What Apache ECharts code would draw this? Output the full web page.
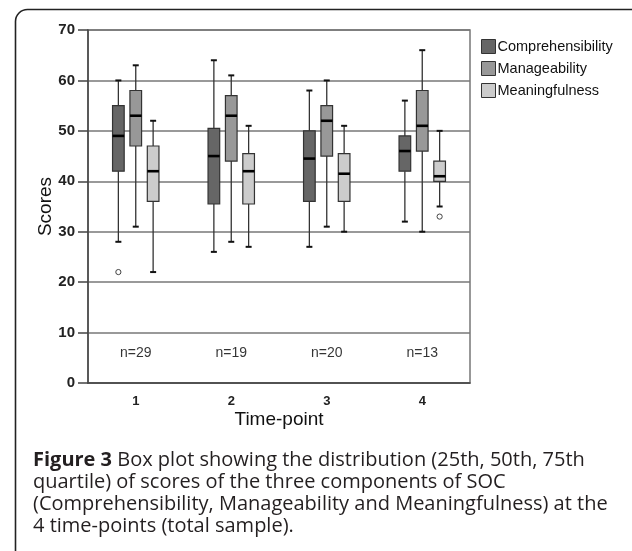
<!DOCTYPE html>
<html>
<head>
<meta charset="utf-8">
<script src="https://cdn.jsdelivr.net/npm/echarts@6/dist/echarts.min.js"></script>
<style>
html,body{margin:0;padding:0;background:#fff;}
#chart{width:632px;height:551px;}
</style>
</head>
<body>
<div id="chart"></div>
<script>
// ---- data ----
const timePoints = ['1', '2', '3', '4'];
const seriesNames = ['Comprehensibility', 'Manageability', 'Meaningfulness'];
// [min, Q1, median, Q3, max] per time-point
const comprehensibility = [
  [28, 42, 49, 55, 60],
  [26, 35.5, 45, 50.5, 64],
  [27, 36, 44.5, 50, 58],
  [32, 42, 46, 49, 56]
];
const manageability = [
  [31, 47, 53, 58, 63],
  [28, 44, 53, 57, 61],
  [31, 45, 52, 55, 60],
  [30, 46, 51, 58, 66]
];
const meaningfulness = [
  [22, 36, 42, 47, 52],
  [27, 35.5, 42, 45.5, 51],
  [30, 36, 41.5, 45.5, 51],
  [35, 40, 41, 44, 50]
];
// outliers: [time-point index, value]
const comprehensibilityOutliers = [[0, 22]];
const manageabilityOutliers = [];
const meaningfulnessOutliers = [[3, 33]];
const sampleSizes = [29, 19, 20, 13];
const yTicks = [0, 10, 20, 30, 40, 50, 60, 70];

// ---- styling ----
const fills = ['#666666', '#989898', '#cccccc'];
const offsets = [-0.182, 0, 0.182];   // fraction of band width
const boxFrac = 0.122;
const ink = '#333333';

function boxRenderer(k) {
  return function (params, api) {
    const cat = api.value(0);
    const mn = api.value(1), q1 = api.value(2), md = api.value(3), q3 = api.value(4), mx = api.value(5);
    const band = api.size([1, 0])[0];
    const cx = api.coord([cat, 0])[0] + offsets[k] * band;
    const w = band * boxFrac;
    const Y = v => api.coord([cat, v])[1];
    const capW = 3;
    const lineStyle = { stroke: ink, lineWidth: 1.3 };
    return {
      type: 'group',
      children: [
        { type: 'line', shape: { x1: cx, y1: Y(mx), x2: cx, y2: Y(q3) }, style: lineStyle },
        { type: 'line', shape: { x1: cx, y1: Y(q1), x2: cx, y2: Y(mn) }, style: lineStyle },
        { type: 'line', shape: { x1: cx - capW, y1: Y(mx), x2: cx + capW, y2: Y(mx) }, style: { stroke: '#111', lineWidth: 2 } },
        { type: 'line', shape: { x1: cx - capW, y1: Y(mn), x2: cx + capW, y2: Y(mn) }, style: { stroke: '#111', lineWidth: 2 } },
        { type: 'rect', shape: { x: cx - w / 2, y: Y(q3), width: w, height: Y(q1) - Y(q3) },
          style: { fill: fills[k], stroke: ink, lineWidth: 1.2 } },
        { type: 'line', shape: { x1: cx - w / 2, y1: Y(md), x2: cx + w / 2, y2: Y(md) }, style: { stroke: '#000', lineWidth: 2.6 } }
      ]
    };
  };
}
function outlierRenderer(k) {
  return function (params, api) {
    const cat = api.value(0);
    const band = api.size([1, 0])[0];
    const p = api.coord([cat, api.value(1)]);
    return { type: 'circle', shape: { cx: p[0] + offsets[k] * band, cy: p[1], r: 2.6 },
      style: { fill: '#fff', stroke: '#444', lineWidth: 1 } };
  };
}

const boxData = [comprehensibility, manageability, meaningfulness];
const outData = [comprehensibilityOutliers, manageabilityOutliers, meaningfulnessOutliers];

const series = [];
boxData.forEach((arr, k) => {
  series.push({
    name: seriesNames[k],
    type: 'custom',
    renderItem: boxRenderer(k),
    itemStyle: { color: fills[k] },
    encode: { x: 0, y: [1, 2, 3, 4, 5] },
    data: arr.map((d, i) => [i].concat(d)),
    z: 3
  });
});
outData.forEach((arr, k) => {
  series.push({
    name: seriesNames[k] + ' outliers',
    type: 'custom',
    renderItem: outlierRenderer(k),
    encode: { x: 0, y: 1 },
    data: arr,
    z: 4
  });
});
series.push({
  name: 'n',
  type: 'scatter',
  symbolSize: 0,
  silent: true,
  data: sampleSizes.map((n, i) => ({ value: [i, 6] })),
  label: {
    show: true, position: 'inside',
    formatter: p => 'n=' + sampleSizes[p.dataIndex],
    fontFamily: 'Liberation Sans', fontSize: 14, color: '#000'
  }
});

const chart = echarts.init(document.getElementById('chart'), null, { renderer: 'canvas' });
chart.setOption({
  animation: false,
  backgroundColor: '#fff',
  graphic: [{
    type: 'rect', left: 13, top: 7,
    shape: { width: 700, height: 700, r: 12 },
    style: { fill: 'none', stroke: '#222', lineWidth: 1.6 },
    z: -10, silent: true
  }],
  title: {
    left: 28, top: 444,
    text: '{b|Figure 3} Box plot showing the distribution (25th, 50th, 75th\nquartile) of scores of the three components of SOC\n(Comprehensibility, Manageability and Meaningfulness) at the\n4 time-points (total sample).',
    textStyle: {
      fontFamily: 'Open Sans', fontSize: 20, fontWeight: 'normal', color: '#231f20', lineHeight: 22,
      rich: { b: { fontFamily: 'Open Sans', fontSize: 20, fontWeight: 'bold', color: '#231f20', lineHeight: 22 } }
    }
  },
  legend: {
    orient: 'vertical', left: 476, top: 34,
    itemWidth: 14, itemHeight: 14, itemGap: 7,
    data: seriesNames.map((n, k) => ({ name: n, icon: 'rect', itemStyle: { color: fills[k], borderColor: '#333', borderWidth: 1 } })),
    textStyle: { fontFamily: 'Liberation Sans', fontSize: 14.5, color: '#111', padding: [0, 0, 0, -3] }
  },
  grid: {
    left: 88, right: 162, top: 30, bottom: 168,
    show: true, borderColor: '#777', borderWidth: 1.5, backgroundColor: 'transparent'
  },
  xAxis: {
    type: 'category', data: timePoints,
    name: 'Time-point', nameLocation: 'middle', nameGap: 27, nameMoveOverlap: false,
    nameTextStyle: { fontFamily: 'Liberation Sans', fontSize: 19, color: '#111' },
    axisLine: { lineStyle: { color: '#444', width: 1.5 } },
    axisTick: { alignWithLabel: true, length: 6, lineStyle: { color: '#444', width: 1.5 } },
    axisLabel: { fontFamily: 'Liberation Sans', fontSize: 13, fontWeight: 'bold', color: '#222', margin: 12 },
    splitLine: { show: false }
  },
  yAxis: {
    type: 'value', min: 0, max: 70, interval: 10,
    name: 'Scores', nameLocation: 'middle', nameGap: 33, nameRotate: 90, nameMoveOverlap: false,
    nameTextStyle: { fontFamily: 'Liberation Sans', fontSize: 19, color: '#111' },
    axisLine: { show: true, lineStyle: { color: '#444', width: 1.5 } },
    axisTick: { show: true, length: 10, lineStyle: { color: '#444', width: 1.5 } },
    axisLabel: { fontFamily: 'Liberation Sans', fontSize: 15, fontWeight: 'bold', color: '#222', margin: 13,
      formatter: v => (yTicks.indexOf(v) >= 0 ? String(v) : '') },
    splitLine: { show: true, lineStyle: { color: '#777', width: 1.5 } }
  },
  series: series
});
</script>
</body>
</html>
